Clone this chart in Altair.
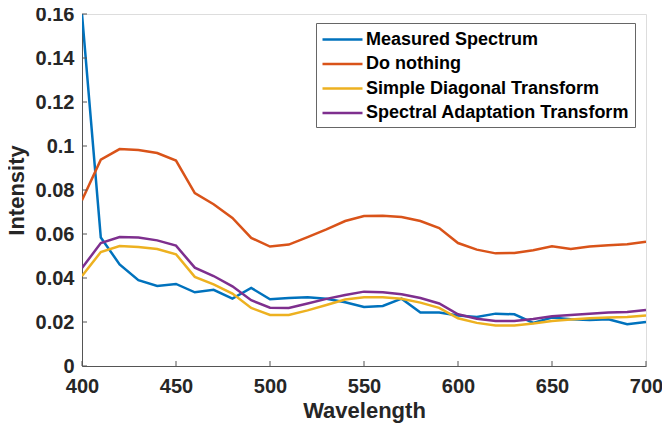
import altair as alt
import pandas as pd

wavelength = list(range(400, 701, 10))

measured = [0.160, 0.0584, 0.0462, 0.0390, 0.0364, 0.0373, 0.0335, 0.0346, 0.0306, 0.0355,
            0.0303, 0.0309, 0.0312, 0.0306, 0.0290, 0.0268, 0.0273, 0.0306, 0.0243, 0.0243,
            0.0230, 0.0223, 0.0238, 0.0235, 0.0196, 0.0220, 0.0212, 0.0209, 0.0212, 0.0190,
            0.0200]
do_nothing = [0.0753, 0.0938, 0.0986, 0.0982, 0.0968, 0.0934, 0.0786, 0.0735, 0.0673, 0.0582,
              0.0543, 0.0552, 0.0586, 0.0621, 0.0659, 0.0682, 0.0683, 0.0677, 0.0659, 0.0627,
              0.0559, 0.0529, 0.0512, 0.0514, 0.0526, 0.0544, 0.0532, 0.0543, 0.0549, 0.0553,
              0.0565]
simple_diag = [0.0409, 0.0518, 0.0545, 0.0541, 0.0532, 0.0508, 0.0405, 0.0371, 0.0329, 0.0264,
               0.0232, 0.0232, 0.0253, 0.0277, 0.0302, 0.0312, 0.0312, 0.0306, 0.0288, 0.0264,
               0.0217, 0.0196, 0.0184, 0.0184, 0.0193, 0.0205, 0.0211, 0.0217, 0.0221, 0.0223,
               0.0230]
spectral_adapt = [0.0445, 0.0559, 0.0586, 0.0584, 0.0571, 0.0547, 0.0447, 0.0409, 0.0362, 0.0299,
                  0.0265, 0.0264, 0.0284, 0.0305, 0.0323, 0.0338, 0.0335, 0.0326, 0.0309, 0.0284,
                  0.0235, 0.0215, 0.0205, 0.0205, 0.0214, 0.0226, 0.0232, 0.0238, 0.0243, 0.0245,
                  0.0255]

series_names = ["Measured Spectrum", "Do nothing", "Simple Diagonal Transform",
                "Spectral Adaptation Transform"]
series_colors = ["#0072BD", "#D95319", "#EDB120", "#7E2F8E"]
x_ticks = [400, 450, 500, 550, 600, 650, 700]
y_ticks = [0, 0.02, 0.04, 0.06, 0.08, 0.10, 0.12, 0.14, 0.16]

rows = []
for name, vals in zip(series_names, [measured, do_nothing, simple_diag, spectral_adapt]):
    for i, (w, v) in enumerate(zip(wavelength, vals)):
        rows.append({"Wavelength": w, "Intensity": v, "Series": name, "order": i})
df = pd.DataFrame(rows)

W, H = 564, 352
FONT = "Liberation Sans"
AX = "#262626"

x_scale = alt.Scale(domain=[400, 700], nice=False, zero=False)
y_scale = alt.Scale(domain=[0, 0.16], nice=False)

lines = alt.Chart(df).mark_line(strokeWidth=2.5, clip=True).encode(
    x=alt.X("Wavelength:Q", scale=x_scale,
            axis=alt.Axis(values=x_ticks, title="Wavelength", grid=False, ticks=False,
                          tickSize=0, labelPadding=10, labelFontSize=20, labelFontWeight="bold",
                          labelFont=FONT, labelColor=AX, titleFont=FONT, titleFontSize=22,
                          titleFontWeight="bold", titleColor=AX, titlePadding=4,
                          domainColor="#555555", domainWidth=1, labelFlush=False)),
    y=alt.Y("Intensity:Q", scale=y_scale,
            axis=alt.Axis(values=y_ticks, title="Intensity", grid=False, ticks=False,
                          tickSize=0, labelPadding=8, labelFontSize=20, labelFontWeight="bold",
                          labelFont=FONT, labelColor=AX, format=".2~f", titleFont=FONT,
                          titleFontSize=22, titleFontWeight="bold", titleColor=AX,
                          titlePadding=7, domainColor="#555555", domainWidth=1,
                          labelFlush=False)),
    color=alt.Color("Series:N", sort=series_names,
                    scale=alt.Scale(domain=series_names, range=series_colors),
                    legend=alt.Legend(title=None, orient="none", legendX=234, legendY=9,
                                      symbolType="M-2,0H2", symbolSize=400, symbolOffset=10,
                                      symbolStrokeWidth=2.5, labelFont=FONT,
                                      labelFontSize=18, labelFontWeight="bold",
                                      labelColor="#000000", labelOffset=12, rowPadding=3.5,
                                      padding=5, strokeColor="#666666", fillColor="#ffffff",
                                      labelLimit=400)),
    order="order:Q",
)

xt = pd.DataFrame({"t": x_ticks})
yt = pd.DataFrame({"t": y_ticks})
x_tick_marks = alt.Chart(xt).mark_rule(color="#555555", strokeWidth=1).encode(
    x=alt.X("t:Q", scale=x_scale), y=alt.value(H), y2=alt.value(H - 5))
y_tick_marks = alt.Chart(yt).mark_rule(color="#555555", strokeWidth=1).encode(
    y=alt.Y("t:Q", scale=y_scale), x=alt.value(0), x2=alt.value(5))

chart = alt.layer(lines, x_tick_marks, y_tick_marks).properties(
    width=W, height=H,
    autosize=alt.AutoSizeParams(type="none"),
    padding={"left": 74, "top": 6, "right": 16, "bottom": 62},
).configure_view(stroke=None).configure(background="#ffffff")

chart.save("out.html", embed_options={"renderer": "svg", "actions": False})
